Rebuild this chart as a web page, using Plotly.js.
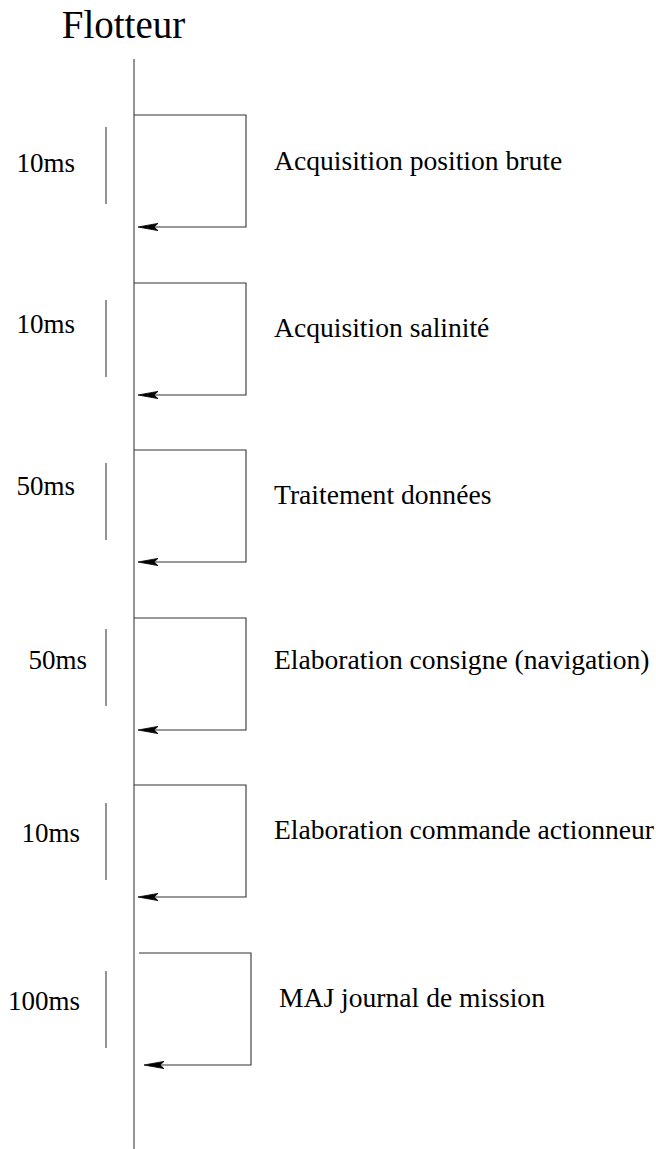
<!DOCTYPE html>
<html>
<head>
<meta charset="utf-8">
<script src="https://cdn.plot.ly/plotly-3.0.1.min.js"></script>
<style>html,body{margin:0;padding:0;background:#fff;}#chart{width:656px;height:1149px;}</style>
</head>
<body>
<div id="chart"></div>
<script>
// ---- data ----
const actor = "Flotteur";
const tasks = [
  "Acquisition position brute",
  "Acquisition salinité",
  "Traitement données",
  "Elaboration consigne (navigation)",
  "Elaboration commande actionneur",
  "MAJ journal de mission"
];
const periods = ["10ms", "10ms", "50ms", "50ms", "10ms", "100ms"];

// ---- layout constants (pixel space of the drawing) ----
const W = 656, H = 1149;
const lifeX = 134, lifeTop = 59;
const loopTop = [115, 283, 450, 618, 785, 953];
const loopShift = [0, 0, 0, 0, 0, 5];         // horizontal shift of each loop
const loopW = 112, loopH = 112;
const barOff = [12, 17, 13, 11, 18, 18], barLen = 77, barX = 106;
const perRight = [75, 75, 75, 87, 80, 80];
const perMid = [165, 326, 488, 662, 835, 1003];
const taskMid = [163, 330, 497, 662, 832, 1000];
const taskX = [274, 274, 274, 274, 274, 279];

const FONT = "Liberation Serif, Times New Roman, serif";
const traces = [];

// lifeline
traces.push({x: [lifeX, lifeX], y: [lifeTop, H], mode: "lines",
  line: {color: "#7a7a7a", width: 1.6}, hoverinfo: "skip"});

tasks.forEach((t, i) => {
  const x0 = lifeX + loopShift[i], x1 = x0 + loopW;
  const yt = loopTop[i], yb = yt + loopH;
  const tip = lifeX + 4 + loopShift[i] * 1.2;
  // loop path
  traces.push({x: [x0, x1, x1, tip + 12], y: [yt, yt, yb, yb], mode: "lines",
    line: {color: "#333333", width: 1.1}, hoverinfo: "skip"});
  // arrowhead
  traces.push({x: [tip, tip + 20, tip + 16, tip + 20, tip], y: [yb, yb - 3.6, yb, yb + 3.6, yb],
    mode: "lines", fill: "toself", fillcolor: "#000", line: {color: "#000", width: 0.8}, hoverinfo: "skip"});
  // duration bar
  traces.push({x: [barX, barX], y: [yt + barOff[i], yt + barOff[i] + barLen], mode: "lines",
    line: {color: "#7a7a7a", width: 1.6}, hoverinfo: "skip"});
});

// period labels
traces.push({x: perRight, y: perMid, text: periods, mode: "text", textposition: "middle left",
  textfont: {family: FONT, size: 27, color: "#000"}, hoverinfo: "skip"});
// task labels
traces.push({x: taskX, y: taskMid, text: tasks, mode: "text", textposition: "middle right",
  textfont: {family: FONT, size: 27.6, color: "#000"}, hoverinfo: "skip"});
// actor title
traces.push({x: [123.5], y: [28], text: [actor], mode: "text", textposition: "middle center",
  textfont: {family: FONT, size: 39, color: "#000"}, hoverinfo: "skip"});

const layout = {
  width: W, height: H,
  margin: {l: 0, r: 0, t: 0, b: 0},
  paper_bgcolor: "#fff", plot_bgcolor: "#fff",
  showlegend: false,
  xaxis: {range: [0, W], visible: false, fixedrange: true},
  yaxis: {range: [H, 0], visible: false, fixedrange: true},
};
Plotly.newPlot("chart", traces, layout, {staticPlot: true, displayModeBar: false});
</script>
</body>
</html>
